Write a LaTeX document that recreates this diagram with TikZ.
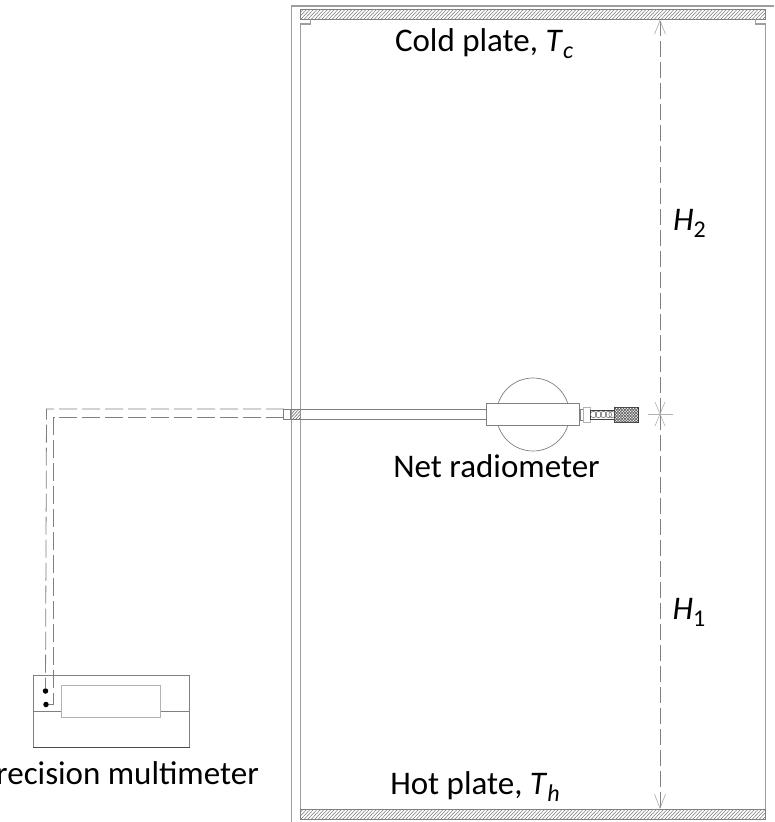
\documentclass[tikz,border=0pt]{standalone}
\usepackage{fontspec}
\setmainfont{Carlito}
\usetikzlibrary{arrows.meta}
\newcommand{\lowsub}[1]{\raisebox{-0.22em}{\fontsize{24}{24}\selectfont #1}}
\definecolor{wall}{gray}{0.62}
\definecolor{wire}{gray}{0.5}
\definecolor{hatchc}{gray}{0.45}
\tikzset{
  x=1pt,y=-1pt,
  wallline/.style={draw=wall,line width=1.1pt},
  thin line/.style={draw=wire,line width=0.9pt},
  wireline/.style={draw=wire,line width=0.8pt,dash pattern=on 18pt off 5pt},
  dimline/.style={draw=wire,line width=0.8pt,dash pattern=on 16pt off 5pt},
  dimtip/.style={-{Straight Barb[length=14pt,width=11pt,line width=0.6pt,color=gray!70]}},
  label/.style={font=\fontsize{33}{33}\selectfont,text=black,inner sep=0pt},
  dot/.style={circle,fill=black,inner sep=0pt,minimum size=5.5pt}
}
\begin{document}
\begin{tikzpicture}
\useasboundingbox (0,0) rectangle (774,822);
\fill[white] (0,0) rectangle (774,822);
% outer walls
\draw[wallline] (774,6) -- (291.5,6) -- (291.5,822);
% cold plate hatch
\begin{scope}
\clip (300.5,9.5) rectangle (765.5,19);
\foreach \i in {290,293.5,...,770}{\draw[hatchc,line width=0.5pt] (\i,19.5) -- (\i+10,9);}
\end{scope}
\draw[draw=wire,line width=0.8pt] (300.5,9.5) rectangle (765.5,19);
% hot plate hatch
\begin{scope}
\clip (300.5,809) rectangle (765.5,819);
\foreach \i in {290,293.5,...,770}{\draw[hatchc,line width=0.5pt] (\i,819.5) -- (\i+10,809);}
\end{scope}
\draw[draw=wire,line width=0.8pt] (300.5,809) rectangle (765.5,819);
% inner walls with notches
\draw[wallline] (310.5,19) -- (310.5,24) -- (300.5,24) -- (300.5,809);
\draw[wallline] (755.5,19) -- (755.5,24) -- (765.5,24) -- (765.5,809);
% probe arm
\node[thin line,draw,minimum width=196pt,minimum height=10pt,inner sep=0pt,anchor=west] (arm) at (290,414) {};
\node[draw=wire,line width=0.8pt,minimum width=7pt,minimum height=10pt,inner sep=0pt,anchor=east] (gland) at (291,414) {};
\begin{scope}
\clip (291.5,409) rectangle (300.5,419);
\foreach \i in {280,283,...,310}{\draw[hatchc,line width=0.6pt] (\i,420) -- (\i+11,408);}
\end{scope}
% radiometer dome
\node[draw=wire,line width=0.7pt,circle,minimum size=73pt,inner sep=0pt] (dome) at (533,414.5) {};
\node[draw=wire,fill=white,line width=0.9pt,minimum width=93pt,minimum height=22pt,inner sep=0pt] (body) at (533,414) {};
% connector
\node[draw=wire,line width=0.7pt,minimum width=4pt,minimum height=11pt,inner sep=0pt,anchor=west] (neck) at (579.5,414.5) {};
\node[draw=gray!60,line width=1pt,fill=white,minimum width=7pt,minimum height=15pt,inner sep=0pt,anchor=west] (nut) at (583,414.5) {};
\node[draw=gray!50!black,line width=0.7pt,minimum width=24pt,minimum height=9pt,inner sep=0pt,anchor=west] (braid) at (590,414.5) {};
\foreach \i in {593.5,598.5,603.5,608.5,612}{
  \draw[gray!80!black,line width=0.5pt] (\i,414.5) circle (3.2pt);
}
\node[draw=gray!40!black,line width=0.7pt,minimum width=24pt,minimum height=15pt,inner sep=0pt,anchor=west] (grip) at (614,414.5) {};
\begin{scope}
\clip (614,407) rectangle (638,422);
\foreach \i in {596,598.8,...,640}{
  \draw[black!65,line width=0.6pt] (\i,423) -- (\i+16,406);
  \draw[black!65,line width=0.6pt] (\i,406) -- (\i+16,423);
}
\end{scope}
% dimension line
\coordinate (dimtop) at (660,19.5);
\coordinate (dimbot) at (660,809);
\coordinate (dimmid) at (660,414);
\draw[dimline,dimtip] (dimmid) -- (dimtop);
\draw[dimline,dimtip] (dimmid) -- (dimbot);
\draw[draw=gray!60,line width=0.6pt] (648,414) -- (673,414);
\draw[draw=gray!60,line width=0.6pt] (655,402) -- (665,426);
\draw[draw=gray!60,line width=0.6pt] (665,402) -- (655,426);
% multimeter
\node[draw=wire,line width=0.9pt,minimum width=156pt,minimum height=72pt,inner sep=0pt] (meter) at (111.5,711) {};
\draw[thin line] (meter.west) -- (meter.east);
\draw[draw=black!70,line width=0.9pt] (meter.south west) -- (meter.south east);
\node[draw=gray!60,fill=white,line width=1pt,minimum width=99pt,minimum height=32pt,inner sep=0pt] (display) at (110.5,701) {};
\node[dot] (termA) at (45.5,691) {};
\node[dot] (termB) at (46,704.5) {};
% wires
\coordinate (wireAa) at (284,409);
\coordinate (wireAb) at (46.5,409);
\coordinate (wireBa) at (284,417.5);
\coordinate (wireBb) at (53.5,417.5);
\coordinate (wireBc) at (53.5,704.5);
\draw[wireline] (wireAa) -- (wireAb) -- (termA);
\draw[wireline] (wireBa) -- (wireBb) -- (wireBc) -- (termB);
% labels
\node[label,anchor=base] (coldlabel) at (484,51) {Cold plate, \textit{T}\lowsub{\textit{c}}};
\node[label,anchor=base] (hotlabel) at (475,794) {Hot plate, \textit{T}\lowsub{\textit{h}}};
\node[label,anchor=base] (netlabel) at (496.5,477) {Net radiometer};
\node[label,anchor=base east] (meterlabel) at (259,784) {Precision multimeter};
\node[label,anchor=base] (h2label) at (689.5,230) {\textit{H}\lowsub{2}};
\node[label,anchor=base] (h1label) at (689,619) {\textit{H}\lowsub{1}};
\end{tikzpicture}
\end{document}
